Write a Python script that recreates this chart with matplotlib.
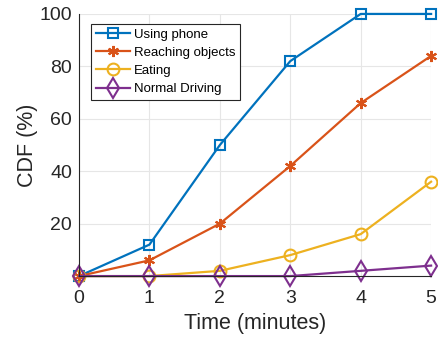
import matplotlib.pyplot as plt

plt.rcParams['font.family'] = ['Liberation Sans', 'DejaVu Sans']

minutes = [0, 1, 2, 3, 4, 5]
using_phone = [0, 12, 50, 82, 100, 100]
reaching = [0, 6, 20, 42, 66, 84]
eating = [0, 0, 2, 8, 16, 36]
normal = [0, 0, 0, 0, 2, 4]

fig = plt.figure(figsize=(4.39, 3.4), dpi=100)
ax = fig.add_axes([0.18, 0.188, 0.802, 0.771])

ax.plot(minutes, using_phone, color='#0072BD', marker='s', markersize=7.5,
        markerfacecolor='none', markeredgewidth=1.5, lw=1.6, label='Using phone')
ax.plot(minutes, reaching, color='#D95319', marker=(6, 2, 0), markersize=8,
        markeredgewidth=1.5, lw=1.6, label='Reaching objects')
ax.plot(minutes, eating, color='#EDB120', marker='o', markersize=8.5,
        markerfacecolor='none', markeredgewidth=1.5, lw=1.6, label='Eating')
ax.plot(minutes, normal, color='#7E2F8E', marker='d', markersize=10,
        markerfacecolor='none', markeredgewidth=1.5, lw=1.6, label='Normal Driving')

ax.set_xlim(0, 5)
ax.set_ylim(0, 100)
ax.set_xticks(minutes)
ax.set_yticks([20, 40, 60, 80, 100])
ax.tick_params(labelsize=14, length=0, colors='#262626')
ax.tick_params(axis='x', pad=10)
ax.tick_params(axis='y', pad=5)
ax.grid(True, color='#e6e6e6', lw=0.8)
ax.set_axisbelow(True)
for s in ['top', 'right']:
    ax.spines[s].set_visible(False)
for s in ['left', 'bottom']:
    ax.spines[s].set_color('#262626')
    ax.spines[s].set_linewidth(0.8)
for line in ax.lines:
    line.set_clip_on(False)

ax.set_xlabel('Time (minutes)', fontsize=15.5, color='#262626', labelpad=4)
ax.set_ylabel('CDF (%)', fontsize=15.5, color='#262626', labelpad=1)

leg = ax.legend(loc='upper left', bbox_to_anchor=(0.034, 0.962), fontsize=9.5,
                fancybox=False, framealpha=1, edgecolor='#262626',
                handlelength=2.6, borderpad=0.35, labelspacing=0.45,
                handletextpad=0.3, borderaxespad=0)
leg.get_frame().set_linewidth(0.8)

fig.savefig('out.png', dpi=100)
